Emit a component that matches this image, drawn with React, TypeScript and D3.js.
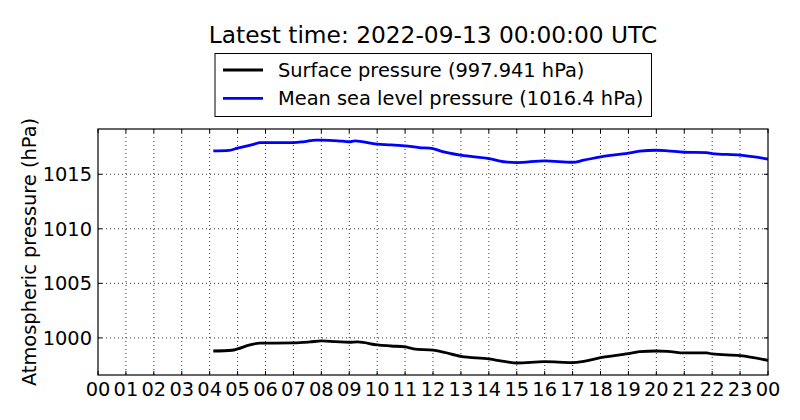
import * as d3 from 'd3';
import React, { useEffect, useRef } from 'react';

// hours since 00 UTC
const surfaceHours = [4.13, 4.8, 5.0, 5.4, 5.8, 6.0, 7.0, 7.6, 8.0, 8.5, 9.0, 9.3, 10.0, 10.5, 11.0, 11.3, 12.0, 12.25, 13.0, 14.0, 14.6, 15.0, 16.0, 17.0, 17.4, 18.0, 19.0, 19.4, 20.0, 20.4, 21.0, 21.8, 22.0, 23.0, 24.0];
const surfaceValues = [998.8, 998.87, 998.99, 999.33, 999.52, 999.52, 999.54, 999.63, 999.72, 999.66, 999.6, 999.63, 999.36, 999.26, 999.17, 999.0, 998.87, 998.77, 998.31, 998.07, 997.82, 997.7, 997.82, 997.73, 997.85, 998.19, 998.56, 998.74, 998.8, 998.77, 998.62, 998.62, 998.53, 998.37, 997.94];

const mslHours = [4.13, 4.7, 5.0, 5.6, 5.8, 6.0, 7.0, 7.4, 7.8, 8.0, 8.6, 9.0, 9.2, 10.0, 10.5, 11.0, 11.5, 12.0, 12.25, 13.0, 14.0, 14.6, 15.0, 16.0, 17.0, 17.4, 18.0, 19.0, 19.4, 20.0, 20.4, 21.0, 21.8, 22.0, 23.0, 24.0];
const mslValues = [1017.15, 1017.2, 1017.4, 1017.76, 1017.9, 1017.9, 1017.9, 1018.0, 1018.13, 1018.13, 1018.07, 1017.98, 1018.07, 1017.76, 1017.7, 1017.6, 1017.45, 1017.35, 1017.15, 1016.75, 1016.44, 1016.13, 1016.07, 1016.23, 1016.1, 1016.29, 1016.6, 1016.93, 1017.12, 1017.2, 1017.15, 1017.02, 1016.99, 1016.9, 1016.75, 1016.4];

const hourTicks = d3.range(0, 25);
const pressureTicks = [1000, 1005, 1010, 1015];
const legendLabels = ['Surface pressure (997.941 hPa)', 'Mean sea level pressure (1016.4 hPa)'];
const seriesColors = ['#000000', '#0000ff'];

const width = 800;
const height = 420;
const margin = { top: 129, right: 32, bottom: 45, left: 98 };
const font = '"DejaVu Sans", sans-serif';
const fs = 19.4;

export default function App() {
  const ref = useRef<SVGSVGElement>(null);

  useEffect(() => {
    const svg = d3.select(ref.current);
    svg.selectAll('*').remove();

    const x = d3.scaleLinear().domain([0, 24]).range([margin.left, width - margin.right]);
    const y = d3.scaleLinear().domain([996.6, 1019.15]).range([height - margin.bottom, margin.top]);

    svg.append('rect').attr('width', width).attr('height', height).attr('fill', '#fff');

    const plot = svg.append('g');

    // dotted grid
    plot
      .selectAll('line.vgrid')
      .data(hourTicks.slice(1, -1))
      .enter()
      .append('line')
      .attr('x1', (d) => x(d))
      .attr('x2', (d) => x(d))
      .attr('y1', margin.top)
      .attr('y2', height - margin.bottom)
      .attr('stroke', '#000')
      .attr('stroke-width', 0.8)
      .attr('stroke-dasharray', '1,3');
    plot
      .selectAll('line.hgrid')
      .data(pressureTicks)
      .enter()
      .append('line')
      .attr('x1', margin.left)
      .attr('x2', width - margin.right)
      .attr('y1', (d) => y(d))
      .attr('y2', (d) => y(d))
      .attr('stroke', '#000')
      .attr('stroke-width', 0.8)
      .attr('stroke-dasharray', '1,3');

    // inward tick marks on all four sides
    const tl = 4;
    hourTicks.forEach((h) => {
      plot.append('line').attr('x1', x(h)).attr('x2', x(h)).attr('y1', height - margin.bottom).attr('y2', height - margin.bottom - tl).attr('stroke', '#000');
      plot.append('line').attr('x1', x(h)).attr('x2', x(h)).attr('y1', margin.top).attr('y2', margin.top + tl).attr('stroke', '#000');
    });
    pressureTicks.forEach((p) => {
      plot.append('line').attr('x1', margin.left).attr('x2', margin.left + tl).attr('y1', y(p)).attr('y2', y(p)).attr('stroke', '#000');
      plot.append('line').attr('x1', width - margin.right).attr('x2', width - margin.right - tl).attr('y1', y(p)).attr('y2', y(p)).attr('stroke', '#000');
    });

    const line = d3
      .line<[number, number]>()
      .x((d) => x(d[0]))
      .y((d) => y(d[1]))
      .curve(d3.curveMonotoneX);

    const series: [number, number][][] = [
      surfaceHours.map((h, i) => [h, surfaceValues[i]]),
      mslHours.map((h, i) => [h, mslValues[i]]),
    ];
    series.forEach((s, i) => {
      plot
        .append('path')
        .attr('d', line(s))
        .attr('fill', 'none')
        .attr('stroke', seriesColors[i])
        .attr('stroke-width', 2.8)
        .attr('stroke-linejoin', 'round');
    });

    // frame
    plot
      .append('rect')
      .attr('x', margin.left)
      .attr('y', margin.top)
      .attr('width', width - margin.left - margin.right)
      .attr('height', height - margin.top - margin.bottom)
      .attr('fill', 'none')
      .attr('stroke', '#000')
      .attr('stroke-width', 1.2);

    // tick labels
    svg
      .selectAll('text.xt')
      .data(hourTicks)
      .enter()
      .append('text')
      .attr('x', (d) => x(d))
      .attr('y', 396)
      .attr('text-anchor', 'middle')
      .attr('font-family', font)
      .attr('font-size', fs)
      .text((d) => d3.format('02d')(d % 24));
    svg
      .selectAll('text.yt')
      .data(pressureTicks)
      .enter()
      .append('text')
      .attr('x', margin.left - 6)
      .attr('y', (d) => y(d))
      .attr('dy', '0.36em')
      .attr('text-anchor', 'end')
      .attr('font-family', font)
      .attr('font-size', fs)
      .text((d) => d);

    svg
      .append('text')
      .attr('transform', `translate(36,${(margin.top + height - margin.bottom) / 2}) rotate(-90)`)
      .attr('text-anchor', 'middle')
      .attr('font-family', font)
      .attr('font-size', fs)
      .text('Atmospheric pressure (hPa)');

    svg
      .append('text')
      .attr('x', (margin.left + width - margin.right) / 2)
      .attr('y', 43)
      .attr('text-anchor', 'middle')
      .attr('font-family', font)
      .attr('font-size', 23.3)
      .text('Latest time: 2022-09-13 00:00:00 UTC');

    // legend
    const lg = svg.append('g');
    lg.append('rect')
      .attr('x', 215)
      .attr('y', 53.5)
      .attr('width', 436.5)
      .attr('height', 63)
      .attr('fill', '#fff')
      .attr('stroke', '#000')
      .attr('stroke-width', 1);
    legendLabels.forEach((label, i) => {
      const ly = 70 + i * 28.3;
      lg.append('line').attr('x1', 223).attr('x2', 263).attr('y1', ly).attr('y2', ly).attr('stroke', seriesColors[i]).attr('stroke-width', 2.8);
      lg.append('text')
        .attr('x', 278)
        .attr('y', ly)
        .attr('dy', '0.36em')
        .attr('font-family', font)
        .attr('font-size', fs)
        .text(label);
    });
  }, []);

  return <svg ref={ref} width={width} height={height} style={{ display: 'block', margin: -8 }} />;
}
